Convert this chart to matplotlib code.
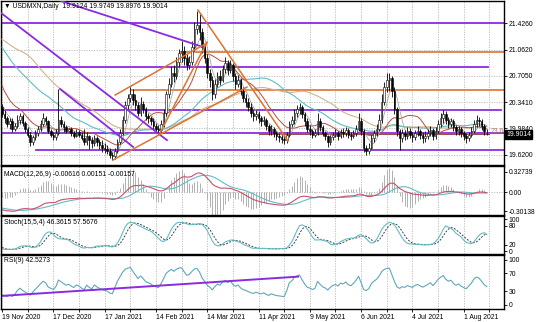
import matplotlib.pyplot as plt
import matplotlib.transforms as mtransforms
import numpy as np

plt.rcParams['font.family'] = ['Liberation Sans', 'DejaVu Sans']

# daily bars before the visible window (only feed the indicators)
pre_close = [21.78, 21.85, 21.70, 21.55, 21.60, 21.50, 21.42, 21.58, 21.38, 21.35,
             21.28, 21.10, 21.08, 20.98, 21.10, 21.05, 21.55, 21.75, 22.20, 22.40,
             22.30, 22.35, 22.15, 22.10, 21.95, 21.85, 21.60, 21.75, 21.45, 21.38,
             21.30, 21.25, 21.30, 21.25, 21.40, 21.20, 21.15, 21.05, 20.90, 21.05,
             20.95, 21.05, 21.05, 21.35, 21.30, 21.25, 21.30, 20.95, 21.00, 20.60,
             20.55, 20.45, 20.50, 20.55, 20.62, 20.50, 20.40, 20.38, 20.28, 20.28]
pre_high = [21.95, 21.92, 21.88, 21.72, 21.68, 21.65, 21.55, 21.66, 21.60, 21.45,
            21.40, 21.30, 21.18, 21.10, 21.18, 21.15, 21.60, 21.85, 22.30, 22.50,
            22.45, 22.42, 22.38, 22.25, 22.12, 21.98, 21.88, 21.82, 21.78, 21.50,
            21.42, 21.36, 21.38, 21.35, 21.45, 21.42, 21.25, 21.18, 21.08, 21.10,
            21.08, 21.10, 21.15, 21.42, 21.45, 21.40, 21.45, 21.40, 21.15, 21.00,
            20.70, 20.62, 20.62, 20.68, 20.70, 20.65, 20.55, 20.48, 20.42, 20.36]
pre_low = [21.70, 21.72, 21.62, 21.48, 21.50, 21.42, 21.35, 21.40, 21.35, 21.28,
           21.20, 21.05, 21.00, 20.92, 20.96, 20.98, 21.02, 21.50, 21.70, 22.15,
           22.18, 22.20, 22.08, 22.02, 21.88, 21.78, 21.55, 21.55, 21.40, 21.30,
           21.22, 21.18, 21.20, 21.18, 21.22, 21.15, 21.08, 21.00, 20.85, 20.88,
           20.88, 20.92, 20.98, 21.02, 21.22, 21.18, 21.20, 20.90, 20.88, 20.55,
           20.40, 20.30, 20.40, 20.45, 20.50, 20.42, 20.35, 20.30, 20.22, 20.20]

# visible bars, 19 Nov 2020 .. 12 Aug 2021
close = [20.18, 20.12, 20.05, 20.08, 19.98, 20.02, 20.10, 20.15, 20.06, 19.98,
         19.90, 19.80, 19.86, 19.92, 19.98, 20.05, 20.12, 20.08, 19.95, 19.90,
         19.86, 19.92, 20.10, 20.05, 20.00, 19.95, 19.97, 19.92, 19.88, 19.93,
         19.90, 19.85, 19.80, 19.88, 19.82, 19.78, 19.85, 19.80, 19.76, 19.72,
         19.70, 19.68, 19.62, 19.60, 19.68, 19.80, 19.92, 20.10, 20.30, 20.40,
         20.46, 20.38, 20.30, 20.20, 20.32, 20.25, 20.15, 20.12, 20.08, 20.02,
         19.98, 19.96, 20.05, 20.20, 20.45, 20.60, 20.75, 20.70, 20.90, 21.02,
         21.05, 20.95, 20.85, 20.90, 21.10, 21.35, 21.40, 21.30, 21.10, 20.95,
         20.75, 20.65, 20.45, 20.60, 20.70, 20.65, 20.80, 20.88, 20.78, 20.85,
         20.70, 20.60, 20.65, 20.50, 20.40, 20.35, 20.28, 20.20, 20.15, 20.18,
         20.12, 20.08, 20.10, 20.02, 19.95, 19.98, 19.92, 19.88, 19.86, 19.84,
         19.82, 19.90, 20.05, 20.10, 20.20, 20.25, 20.28, 20.18, 20.08, 19.98,
         19.95, 19.90, 19.92, 20.08, 20.00, 19.92, 19.88, 19.80, 19.86, 19.90,
         19.92, 19.88, 19.94, 19.92, 19.96, 19.90, 19.88, 19.92, 19.98, 20.08,
         19.95, 19.72, 19.68, 19.72, 19.85, 19.92, 19.98, 20.10, 20.35, 20.55,
         20.65, 20.68, 20.50, 20.25, 19.95, 19.85, 19.92, 19.88, 19.95, 19.90,
         19.86, 19.92, 19.95, 19.90, 19.85, 19.88, 19.92, 19.96, 19.88, 19.95,
         20.05, 20.12, 20.18, 20.10, 20.05, 20.08, 20.00, 19.95, 19.98, 19.92,
         19.88, 19.85, 19.90, 19.95, 20.05, 20.10, 20.08, 20.02, 19.95, 19.9014]
high = [20.32, 20.24, 20.16, 20.12, 20.12, 20.06, 20.17, 20.20, 20.18, 20.09,
        20.01, 19.93, 19.90, 19.96, 20.02, 20.10, 20.19, 20.16, 20.10, 19.98,
        19.94, 19.97, 20.52, 20.16, 20.08, 20.03, 19.99, 20.00, 19.95, 19.97,
        19.96, 19.93, 19.98, 19.94, 19.90, 19.86, 19.90, 19.88, 19.84, 19.82,
        19.78, 19.75, 19.72, 19.66, 19.72, 19.84, 19.97, 20.15, 20.36, 20.46,
        20.55, 20.52, 20.45, 20.34, 20.41, 20.36, 20.28, 20.20, 20.16, 20.12,
        20.06, 20.03, 20.10, 20.25, 20.50, 20.68, 20.84, 20.85, 20.97, 21.08,
        21.18, 21.12, 21.00, 20.98, 21.18, 21.45, 21.60, 21.55, 21.36, 21.15,
        21.00, 20.80, 20.70, 20.66, 20.76, 20.78, 20.85, 20.96, 20.92, 20.92,
        20.88, 20.74, 20.72, 20.68, 20.55, 20.46, 20.40, 20.33, 20.24, 20.24,
        20.22, 20.16, 20.15, 20.13, 20.05, 20.03, 20.01, 19.95, 19.92, 19.90,
        19.88, 19.94, 20.09, 20.15, 20.25, 20.31, 20.33, 20.30, 20.21, 20.12,
        20.03, 19.98, 19.97, 20.19, 20.12, 20.03, 19.95, 19.90, 19.90, 19.94,
        19.97, 19.95, 19.98, 19.99, 20.00, 19.99, 19.94, 19.96, 20.03, 20.19,
        20.12, 19.97, 19.76, 19.78, 19.90, 19.96, 20.04, 20.18, 20.45, 20.62,
        20.74, 20.75, 20.70, 20.55, 20.28, 19.98, 19.98, 19.96, 20.00, 19.99,
        19.94, 19.96, 20.02, 19.98, 19.93, 19.95, 19.98, 20.02, 19.99, 20.00,
        20.10, 20.20, 20.24, 20.22, 20.14, 20.13, 20.11, 20.03, 20.02, 20.00,
        19.95, 19.92, 19.94, 20.00, 20.10, 20.17, 20.14, 20.11, 20.05, 19.9749]
low = [20.14, 20.06, 20.00, 19.98, 19.94, 19.95, 19.99, 20.05, 20.02, 19.94,
       19.86, 19.74, 19.76, 19.82, 19.88, 19.95, 20.02, 20.03, 19.92, 19.86,
       19.82, 19.83, 19.90, 20.00, 19.94, 19.92, 19.93, 19.88, 19.85, 19.86,
       19.87, 19.82, 19.75, 19.76, 19.70, 19.72, 19.74, 19.74, 19.70, 19.66,
       19.65, 19.63, 19.58, 19.55, 19.57, 19.65, 19.77, 19.90, 20.06, 20.25,
       20.35, 20.30, 20.24, 20.15, 20.16, 20.19, 20.10, 20.06, 20.03, 19.97,
       19.93, 19.91, 19.93, 20.01, 20.16, 20.40, 20.55, 20.62, 20.66, 20.82,
       20.90, 20.85, 20.78, 20.80, 20.86, 21.05, 21.28, 21.20, 21.02, 20.88,
       20.68, 20.55, 20.37, 20.40, 20.55, 20.58, 20.62, 20.75, 20.72, 20.74,
       20.64, 20.52, 20.55, 20.44, 20.34, 20.28, 20.22, 20.14, 20.08, 20.10,
       20.06, 20.02, 20.03, 19.96, 19.90, 19.90, 19.86, 19.82, 19.80, 19.79,
       19.77, 19.79, 19.87, 20.00, 20.05, 20.14, 20.18, 20.12, 20.02, 19.94,
       19.90, 19.85, 19.86, 19.90, 19.95, 19.88, 19.82, 19.73, 19.76, 19.83,
       19.86, 19.83, 19.85, 19.87, 19.88, 19.85, 19.83, 19.85, 19.88, 19.95,
       19.90, 19.66, 19.62, 19.63, 19.70, 19.80, 19.88, 19.95, 20.06, 20.30,
       20.48, 20.50, 20.42, 20.18, 19.88, 19.69, 19.80, 19.82, 19.84, 19.85,
       19.80, 19.82, 19.88, 19.84, 19.78, 19.80, 19.84, 19.88, 19.83, 19.84,
       19.92, 20.00, 20.06, 20.04, 19.99, 20.00, 19.95, 19.90, 19.90, 19.86,
       19.82, 19.79, 19.81, 19.86, 19.92, 20.01, 20.02, 19.96, 19.90, 19.8976]
last_open = 19.9124

date_ticks = [0, 20, 40, 60, 80, 100, 120, 140, 160, 180]
date_labels = ['19 Nov 2020', '17 Dec 2020', '17 Jan 2021', '14 Feb 2021', '14 Mar 2021',
               '11 Apr 2021', '9 May 2021', '6 Jun 2021', '4 Jul 2021', '1 Aug 2021']
price_ticks = [21.4260, 21.0620, 20.7050, 20.3410, 19.9840, 19.6200]

# drawn objects: (bar, price) anchors
purple_levels = [(21.426, -1, 200), (20.831, -1, 189.5), (20.237, -1, 194.5),
                 (19.925, -1, 200), (19.688, 13.3, 200)]
orange_levels = [(21.036, 69.4, 200), (20.511, 50.3, 200)]
purple_trends = [((-0.4, 21.568), (64.3, 19.823)),
                 ((14.8, 21.826), (78.4, 21.101)),
                 ((22.6, 20.525), (51.1, 19.730))]
orange_trends = [((43.3, 19.551), (95.5, 20.552)),
                 ((44.1, 20.442), (79.9, 21.156)),
                 ((61.6, 19.921), (79.9, 21.169)),
                 ((76.4, 21.608), (111.5, 19.811))]
fib_level = (19.901, 100, 190)
rsi_trend = ((-0.8, 20), (115.4, 63))

PURPLE = '#8a2be2'
ORANGE = '#dc7430'
TEAL = '#62bcc4'
TAN = '#d2b48c'
BROWN = '#b5503c'
FS = 4.9


def sma(a, n):
    out = np.full(len(a), np.nan)
    for i in range(n - 1, len(a)):
        out[i] = a[i - n + 1:i + 1].mean()
    return out


def ema(a, n):
    k = 2.0 / (n + 1)
    out = np.empty(len(a))
    out[0] = a[0]
    for i in range(1, len(a)):
        out[i] = a[i] * k + out[i - 1] * (1 - k)
    return out


def rsi(a, n):
    d = np.diff(a)
    up = np.where(d > 0, d, 0.0)
    dn = np.where(d < 0, -d, 0.0)
    out = np.full(len(a), np.nan)
    au, ad = up[:n].mean(), dn[:n].mean()
    out[n] = 100 - 100 / (1 + au / ad)
    for i in range(n, len(d)):
        au = (au * (n - 1) + up[i]) / n
        ad = (ad * (n - 1) + dn[i]) / n
        out[i + 1] = 100 - 100 / (1 + au / ad)
    return out


def stoch(h, l, c, kp, slow, dp):
    hh = np.array([h[max(0, i - kp + 1):i + 1].max() for i in range(len(c))])
    ll = np.array([l[max(0, i - kp + 1):i + 1].min() for i in range(len(c))])
    k = np.full(len(c), np.nan)
    for i in range(slow - 1, len(c)):
        num = (c[i - slow + 1:i + 1] - ll[i - slow + 1:i + 1]).sum()
        den = (hh[i - slow + 1:i + 1] - ll[i - slow + 1:i + 1]).sum()
        k[i] = 100 * num / den
    return k, sma(k, dp)


c_all = np.array(pre_close + close)
h_all = np.array(pre_high + high)
l_all = np.array(pre_low + low)
npre = len(pre_close)

ma_grey = sma(c_all, 5)[npre:]
ma_brown = sma(c_all, 15)[npre:]
ma_teal = sma(c_all, 40)[npre:]
ma_tan = sma(c_all, 55)[npre:]
macd_main = ema(c_all, 12) - ema(c_all, 26)
macd_sig = sma(macd_main, 9)
macd_main, macd_sig = macd_main[npre:], macd_sig[npre:]
macd_hist = 3 * (macd_main - macd_sig)
st_k, st_d = stoch(h_all, l_all, c_all, 15, 5, 4)
st_k, st_d = st_k[npre:], st_d[npre:]
rsi9 = rsi(c_all, 9)[npre:]

c = np.array(close)
o = np.concatenate([[pre_close[-1]], c[:-1]])
o[-1] = last_open
h = np.maximum(np.array(high), np.maximum(o, c))
l = np.minimum(np.array(low), np.minimum(o, c))
x = np.arange(len(c))

W, H = 536, 322
fig = plt.figure(figsize=(W / 100, H / 100), dpi=100)


def panel(y0, y1):
    ax = fig.add_axes([1 / W, 1 - y1 / H, 503 / W, (y1 - y0) / H])
    ax.set_xlim(-0.4, 195.7)
    for s in ax.spines.values():
        s.set_linewidth(1.0)
        s.set_color('black')
    ax.yaxis.tick_right()
    ax.tick_params(axis='y', labelsize=FS, length=2, pad=1.2, width=0.6)
    ax.tick_params(axis='x', length=2, width=0.6, labelbottom=False)
    ax.set_xticks(np.arange(0, 196, 10))
    ax.grid(axis='x', color='#b8b8b8', linestyle=(0, (1.5, 1.5)), linewidth=0.6)
    ax.set_axisbelow(True)
    return ax


ax = panel(1, 165)
ax_m = panel(166, 215)
ax_s = panel(216, 254)
ax_r = panel(255, 309)

# main price panel
ax.set_ylim(19.482, 21.732)
ax.set_yticks(price_ticks)
ax.set_yticklabels(['%.4f' % v for v in price_ticks])
ax.grid(axis='y', color='#b8b8b8', linestyle=(0, (1.5, 1.5)), linewidth=0.6)

for yv, x0, x1 in purple_levels:
    ax.plot([x0, x1], [yv, yv], color=PURPLE, lw=1.3, zorder=2)
for yv, x0, x1 in orange_levels:
    ax.plot([x0, x1], [yv, yv], color=ORANGE, lw=1.2, zorder=2)
ax.plot([fib_level[1], fib_level[2]], [fib_level[0]] * 2, color='#a04848', lw=0.7, zorder=2)
ax.text(fib_level[2] + 0.5, fib_level[0] + 0.035, '23.6', color='#b07070', fontsize=FS,
        va='center', ha='left')

ax.plot(x, ma_tan, color=TAN, lw=0.8, zorder=3)
ax.plot(x, ma_teal, color=TEAL, lw=0.8, zorder=3)
ax.plot(x, ma_brown, color=BROWN, lw=0.7, zorder=3)
ax.plot(x, ma_grey, color='#a8a8a0', lw=0.6, zorder=3)

ax.vlines(x, l, h, color='black', lw=0.6, zorder=4)
bull = c >= o
body_lo = np.minimum(o, c)
body_h = np.maximum(np.abs(c - o), 0.004)
ax.bar(x[bull], body_h[bull], bottom=body_lo[bull], width=0.62, color='white',
       edgecolor='black', linewidth=0.4, zorder=5)
ax.bar(x[~bull], body_h[~bull], bottom=body_lo[~bull], width=0.62, color='black',
       edgecolor='black', linewidth=0.4, zorder=5)

for (x0, y0), (x1, y1) in purple_trends:
    ax.plot([x0, x1], [y0, y1], color=PURPLE, lw=1.3, zorder=6)
for (x0, y0), (x1, y1) in orange_trends:
    ax.plot([x0, x1], [y0, y1], color=ORANGE, lw=1.1, zorder=6)

ax.text(3 / 503, 1 - 5.5 / 164, '\u25bc USDMXN,Daily  19.9124 19.9749 19.8976 19.9014',
        transform=ax.transAxes, fontsize=FS, va='center', ha='left', zorder=10)
tr = mtransforms.blended_transform_factory(ax.transAxes, ax.transData)
ax.text(1.004, close[-1], '%.4f' % close[-1], transform=tr, fontsize=FS, color='white',
        va='center', ha='left', clip_on=False, zorder=10,
        bbox=dict(boxstyle='square,pad=0.12', fc='black', ec='black'))

# MACD
ax_m.set_ylim(-0.357, 0.414)
ax_m.set_yticks([0.32739, 0.0, -0.30138])
ax_m.set_yticklabels(['0.32739', '0.00', '-0.30138'])
ax_m.axhline(0, color='#b8b8b8', linestyle=(0, (1.5, 1.5)), lw=0.6)
ax_m.vlines(x, 0, macd_hist, color='#b0b0b0', lw=0.7)
ax_m.plot(x, macd_sig, color=TEAL, lw=0.8)
ax_m.plot(x, macd_main, color='#c8506e', lw=0.8)
ax_m.text(3 / 503, 1 - 9 / 49, 'MACD(12,26,9) -0.00616 0.00151 -0.00157',
          transform=ax_m.transAxes, fontsize=FS, va='center', ha='left')

# Stochastic
ax_s.set_ylim(-9.5, 111)
ax_s.set_yticks([100, 80, 20, 0])
ax_s.set_yticklabels(['100', '80', '20', '0'])
ax_s.plot(x, st_d, color='#404040', lw=0.7, linestyle=(0, (2, 1.5)))
ax_s.plot(x, st_k, color=TEAL, lw=0.8)
ax_s.text(3 / 503, 1 - 6 / 38, 'Stoch(15,5,4) 46.3615 57.5676',
          transform=ax_s.transAxes, fontsize=FS, va='center', ha='left')

# RSI
ax_r.set_ylim(-8.9, 111.1)
ax_r.set_yticks([100, 70, 30, 0])
ax_r.set_yticklabels(['100', '70', '30', '0'])
ax_r.plot(x, rsi9, color='#5fa8b8', lw=0.8)
ax_r.plot([rsi_trend[0][0], rsi_trend[1][0]], [rsi_trend[0][1], rsi_trend[1][1]],
          color=PURPLE, lw=1.4)
ax_r.text(3 / 503, 1 - 6 / 54, 'RSI(9) 42.5273',
          transform=ax_r.transAxes, fontsize=FS, va='center', ha='left')
ax_r.set_xticks(np.arange(0, 196, 10))
ax_r.set_xticklabels([date_labels[date_ticks.index(t)] if t in date_ticks else ''
                      for t in range(0, 196, 10)])
ax_r.tick_params(axis='x', labelbottom=True, labelsize=FS, pad=1.5)
for lab in ax_r.get_xticklabels():
    lab.set_ha('left')

fig.savefig('out.png', dpi=100, facecolor='white')
